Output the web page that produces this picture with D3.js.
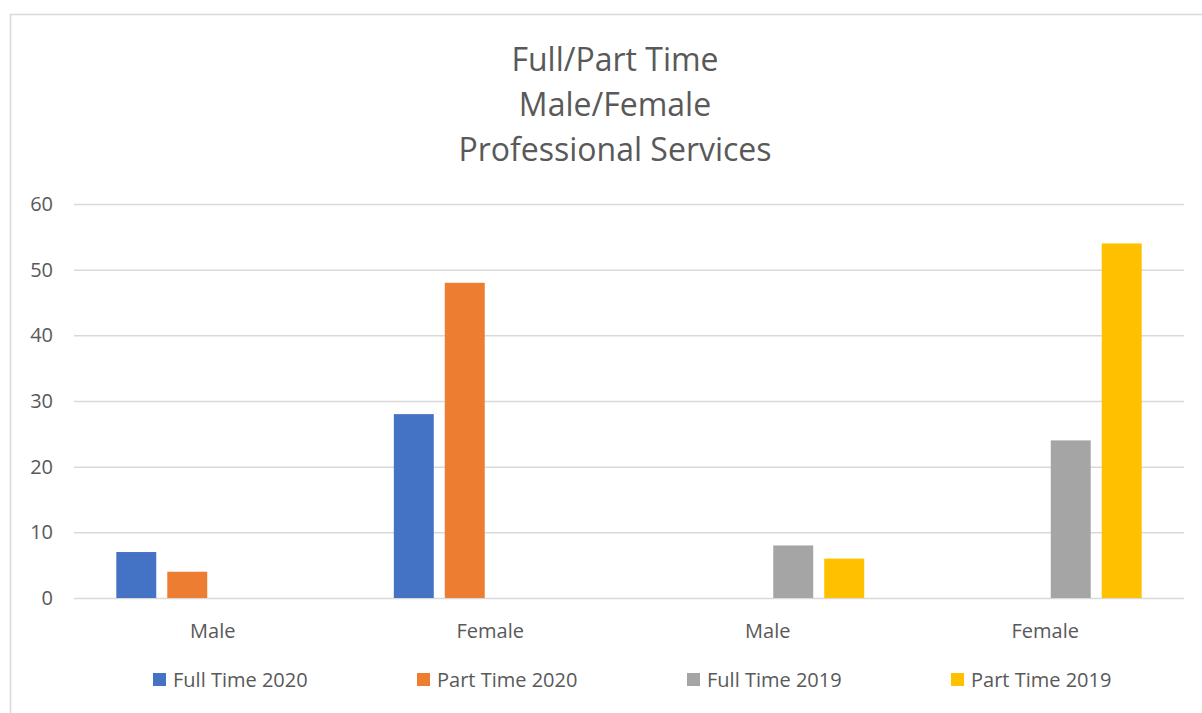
<!DOCTYPE html>
<html>
<head>
<meta charset="utf-8">
<script src="https://cdn.jsdelivr.net/npm/d3@7"></script>
<style>
  body { margin: 0; background: #fff; }
  svg { display: block; font-family: "Open Sans", "Noto Sans", sans-serif; }
</style>
</head>
<body>
<svg id="chart" width="1202" height="713"></svg>
<script>
"use strict";

var categories = ["Male", "Female", "Male", "Female"];
var seriesNames = ["Full Time 2020", "Part Time 2020", "Full Time 2019", "Part Time 2019"];
var seriesColors = ["#4472c4", "#ed7d31", "#a5a5a5", "#ffc000"];
var fullTime2020 = [7, 28, null, null];
var partTime2020 = [4, 48, null, null];
var fullTime2019 = [null, null, 8, 24];
var partTime2019 = [null, null, 6, 54];
var yTicks = [0, 10, 20, 30, 40, 50, 60];
var titleLines = ["Full/Part Time", "Male/Female", "Professional Services"];

var seriesValues = [fullTime2020, partTime2020, fullTime2019, partTime2019];

var svg = d3.select("#chart");
var textColor = "#595959";
var gridColor = "#d9d9d9";

// chart frame
svg.append("rect")
    .attr("x", 10.5)
    .attr("y", 14.5)
    .attr("width", 1200)
    .attr("height", 710)
    .attr("fill", "#fff")
    .attr("stroke", gridColor)
    .attr("stroke-width", 1.5);

var plot = { left: 74, right: 1184, top: 204, bottom: 598 };

var x0 = d3.scaleBand()
    .domain(d3.range(categories.length))
    .range([plot.left, plot.right])
    .padding(0);

var x1 = d3.scaleBand()
    .domain(d3.range(seriesNames.length))
    .range([0, x0.bandwidth()])
    .paddingInner(0.216)
    .paddingOuter(0.83);

var y = d3.scaleLinear()
    .domain([0, 60])
    .range([plot.bottom, plot.top]);

// title
svg.append("g")
    .selectAll("text")
    .data(titleLines)
    .enter()
    .append("text")
    .attr("x", 615)
    .attr("y", function(d, i) { return 71 + i * 45; })
    .attr("text-anchor", "middle")
    .attr("fill", textColor)
    .attr("font-size", 32)
    .text(function(d) { return d; });

// gridlines + y labels
var yAxis = d3.axisLeft(y)
    .tickValues(yTicks)
    .tickSize(-(plot.right - plot.left))
    .tickPadding(21);

var yg = svg.append("g")
    .attr("transform", "translate(" + plot.left + ",0)")
    .call(yAxis);
yg.select(".domain").remove();
yg.selectAll(".tick line")
    .attr("stroke", gridColor)
    .attr("stroke-width", 1.5);
yg.selectAll(".tick text")
    .attr("fill", textColor)
    .attr("font-size", 20)
    .attr("font-family", "'Open Sans', sans-serif");

// bars
var groups = svg.append("g")
    .selectAll("g")
    .data(categories)
    .enter()
    .append("g")
    .attr("transform", function(d, i) { return "translate(" + x0(i) + ",0)"; });

groups.selectAll("rect")
    .data(function(d, ci) {
        return seriesValues.map(function(vals, si) {
            return { series: si, value: vals[ci] };
        }).filter(function(d) { return d.value != null; });
    })
    .enter()
    .append("rect")
    .attr("x", function(d) { return x1(d.series); })
    .attr("width", x1.bandwidth())
    .attr("y", function(d) { return y(d.value); })
    .attr("height", function(d) { return y(0) - y(d.value); })
    .attr("fill", function(d) { return seriesColors[d.series]; });

// category labels
svg.append("g")
    .selectAll("text")
    .data(categories)
    .enter()
    .append("text")
    .attr("x", function(d, i) { return x0(i) + x0.bandwidth() / 2; })
    .attr("y", 638)
    .attr("text-anchor", "middle")
    .attr("fill", textColor)
    .attr("font-size", 20)
    .text(function(d) { return d; });

// legend
var legendX = [153, 417, 687, 951];
var legend = svg.append("g")
    .selectAll("g")
    .data(seriesNames)
    .enter()
    .append("g")
    .attr("transform", function(d, i) { return "translate(" + legendX[i] + ",673)"; });

legend.append("rect")
    .attr("width", 13)
    .attr("height", 13)
    .attr("fill", function(d, i) { return seriesColors[i]; });

legend.append("text")
    .attr("x", 20)
    .attr("y", 14)
    .attr("fill", textColor)
    .attr("font-size", 20)
    .text(function(d) { return d; });
</script>
</body>
</html>
